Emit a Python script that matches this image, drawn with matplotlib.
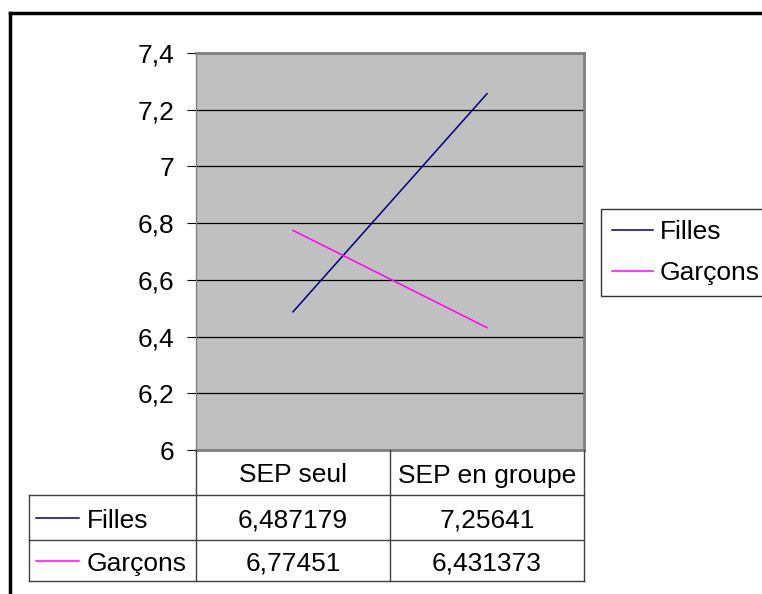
import matplotlib
matplotlib.use("Agg")
import matplotlib.pyplot as plt
from matplotlib.lines import Line2D

plt.rcParams['font.family'] = ['Liberation Sans', 'DejaVu Sans']

categories = ["SEP seul", "SEP en groupe"]
series_names = ["Filles", "Garçons"]
filles = [6.487179, 7.25641]
garcons = [6.77451, 6.431373]
table_text = [["6,487179", "7,25641"], ["6,77451", "6,431373"]]
colors = ["#000080", "#FF00FF"]
yticks = [6.0, 6.2, 6.4, 6.6, 6.8, 7.0, 7.2, 7.4]
ytick_labels = ["6", "6,2", "6,4", "6,6", "6,8", "7", "7,2", "7,4"]

W, H = 762, 594
fig = plt.figure(figsize=(W / 100, H / 100), dpi=100)
FS = 19

def fx(px):
    return px / W

def fy(py):
    return 1 - py / H

# plot area
L, R, T, B = 196, 584, 53, 450
ax = fig.add_axes([fx(L), fy(B), fx(R) - fx(L), fy(T) - fy(B)])
ax.set_facecolor("#C0C0C0")
xs = list(range(len(categories)))
lines = []
for vals, name, c in zip([filles, garcons], series_names, colors):
    ln, = ax.plot(xs, vals, color=c, lw=1.1, label=name)
    lines.append(ln)
ax.set_xlim(-0.5, len(categories) - 0.5)
ax.set_ylim(6.0, 7.4)
ax.set_yticks(yticks)
ax.set_yticklabels(ytick_labels, fontsize=FS)
ax.set_xticks([])
ax.tick_params(axis='y', length=6.5, width=0.8, color='black', pad=9)
ax.yaxis.grid(True, color='black', lw=0.9)
ax.set_axisbelow(True)
for s in ['top', 'right', 'bottom']:
    ax.spines[s].set_color('#808080')
    ax.spines[s].set_linewidth(2)
ax.spines['left'].set_color('#808080')
ax.spines['left'].set_linewidth(1)

# outer frame
fig.add_artist(Line2D([fx(10), fx(10)], [fy(13), 0], color='black', lw=2.5))
fig.add_artist(Line2D([fx(10), 1], [fy(13), fy(13)], color='black', lw=2.5))

# data table
rows_y = [450, 495, 540, 581]
col_x = [29, 196, 390, 584]
gc = '#404040'
tl = 1.0
fig.add_artist(Line2D([fx(L), fx(L)], [fy(450), fy(581)], color=gc, lw=tl))
fig.add_artist(Line2D([fx(390), fx(390)], [fy(450), fy(581)], color=gc, lw=tl))
fig.add_artist(Line2D([fx(584), fx(584)], [fy(450), fy(581)], color=gc, lw=tl))
fig.add_artist(Line2D([fx(29), fx(29)], [fy(495), fy(581)], color=gc, lw=tl))
fig.add_artist(Line2D([fx(29), fx(584)], [fy(495), fy(495)], color=gc, lw=tl))
fig.add_artist(Line2D([fx(29), fx(584)], [fy(540), fy(540)], color=gc, lw=tl))
fig.add_artist(Line2D([fx(29), fx(584)], [fy(581), fy(581)], color=gc, lw=tl))

TY = 3  # text downward offset in px
for j, cat in enumerate(categories):
    cx = (col_x[j + 1] + col_x[j + 2]) / 2
    fig.text(fx(cx), fy((rows_y[0] + rows_y[1]) / 2 + TY), cat, ha='center', va='center', fontsize=FS)
for i, name in enumerate(series_names):
    cy = (rows_y[i + 1] + rows_y[i + 2]) / 2
    fig.add_artist(Line2D([fx(36), fx(79)], [fy(cy), fy(cy)], color=colors[i], lw=1.1))
    fig.text(fx(87), fy(cy + TY), name, ha='left', va='center', fontsize=FS)
    for j in range(len(categories)):
        cx = (col_x[j + 1] + col_x[j + 2]) / 2
        fig.text(fx(cx), fy(cy + TY), table_text[i][j], ha='center', va='center', fontsize=FS)

# legend
leg = fig.legend(handles=lines, labels=series_names, loc='upper left',
                 bbox_to_anchor=(fx(601), fy(209)), frameon=True, fancybox=False,
                 edgecolor='black', fontsize=FS, handlelength=1.55, handletextpad=0.26,
                 borderpad=0.42, labelspacing=0.65, borderaxespad=0)
leg.get_frame().set_linewidth(1)

fig.savefig("out.png", dpi=100, facecolor='white')
